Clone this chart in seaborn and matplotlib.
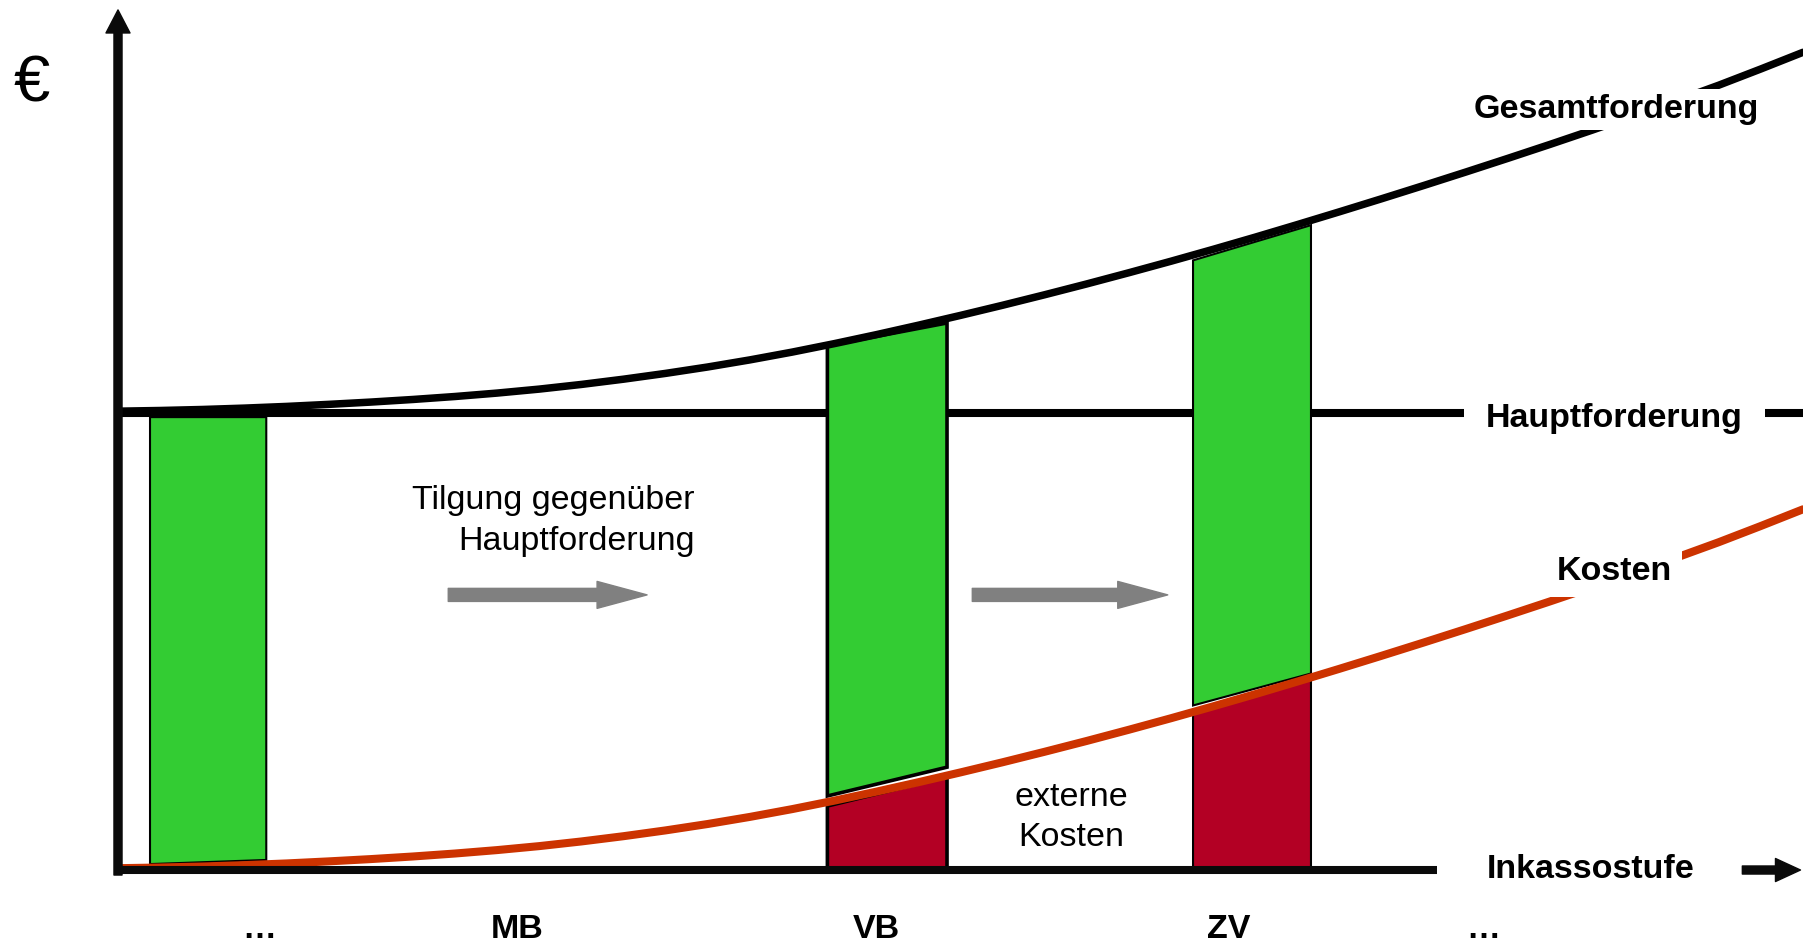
import matplotlib
matplotlib.use("Agg")
import matplotlib.pyplot as plt
import seaborn as sns

# Collection stages along the horizontal axis
stage_labels = ["…", "MB", "VB", "ZV", "…"]
stage_pos = [0.84, 2.37, 4.50, 6.59, 8.10]

# Principal claim (constant)
HAUPT = 100.0

# Accumulated external costs along the collection process
kosten_x = [0.0, 0.25, 0.5, 0.75, 1.0, 1.25, 1.5, 1.75, 2.0, 2.25,
            2.5, 2.75, 3.0, 3.25, 3.5, 3.75, 4.0, 4.25, 4.5, 4.75,
            5.0, 5.25, 5.5, 5.75, 6.0, 6.25, 6.5, 6.75, 7.0, 7.25,
            7.5, 7.75, 8.0, 8.25, 8.5, 8.75, 9.0, 9.25, 9.5, 9.75, 10.0]
kosten = [0.4, 0.55, 0.77, 1.07, 1.44, 1.89, 2.39, 2.96, 3.61, 4.36,
          5.23, 6.25, 7.40, 8.67, 10.07, 11.62, 13.32, 15.17, 17.14, 19.21,
          21.36, 23.58, 25.88, 28.25, 30.70, 33.22, 35.82, 38.49, 41.24, 44.04,
          46.89, 49.79, 52.74, 55.74, 58.79, 61.91, 65.11, 68.38, 71.73, 75.28, 78.93]
# Total claim = principal + costs
gesamt = [HAUPT + k for k in kosten]

# Stacked columns: green = repayment towards the claim, red = external costs
bar_left = [0.19, 4.21, 6.38]
bar_right = [0.88, 4.92, 7.08]
green_top_l = [99.1, 114.7, 133.4]
green_top_r = [99.1, 119.7, 141.1]
green_bot_l = [1.3, 16.2, 36.0]
green_bot_r = [2.2, 22.5, 43.0]
red_top_l = [0.0, 14.0, 34.4]
red_top_r = [0.0, 20.4, 41.8]
bar_edge = [1.5, 2.6, 1.5]

GREEN = "#33CC33"
RED = "#B30024"
ORANGE = "#CC3300"
GRAY = "#808080"
BLACK = "#000000"

sns.set_theme(style="white")
plt.rcParams["font.family"] = ["Liberation Sans", "DejaVu Sans"]

fig = plt.figure(figsize=(18.03, 9.43), dpi=100)
ax = fig.add_axes([0, 0, 1, 1])
ax.set_xlim(-0.7003, 10.0)
ax.set_ylim(-15.97, 190.37)
ax.axis("off")

LW = 5.8

# Principal claim line
sns.lineplot(x=[0.0, 10.0], y=[HAUPT, HAUPT], ax=ax, color=BLACK,
             linewidth=LW, legend=False, zorder=1)

# Columns
for i in range(len(bar_left)):
    l, r = bar_left[i], bar_right[i]
    if red_top_l[i] > 0:
        ax.fill([l, r, r, l], [0, 0, red_top_r[i], red_top_l[i]],
                facecolor=RED, edgecolor=BLACK, linewidth=bar_edge[i], zorder=2)
    ax.fill([l, r, r, l],
            [green_bot_l[i], green_bot_r[i], green_top_r[i], green_top_l[i]],
            facecolor=GREEN, edgecolor=BLACK, linewidth=bar_edge[i], zorder=2)

# Curves
sns.lineplot(x=kosten_x, y=gesamt, ax=ax, color=BLACK, linewidth=5.4,
             legend=False, zorder=3, solid_capstyle="round")
sns.lineplot(x=kosten_x, y=kosten, ax=ax, color=ORANGE, linewidth=LW,
             legend=False, zorder=3, solid_capstyle="round")

# Axes with arrow heads
ax.annotate("", xy=(0.0, 188.2), xytext=(0.0, -1.1),
            arrowprops=dict(arrowstyle="simple,head_length=16.6,head_width=17.3,tail_width=5.8",
                            mutation_scale=1, color="#0a0a0a", shrinkA=0, shrinkB=0),
            zorder=4)
ax.plot([-0.02, 7.83], [0, 0], color="#0a0a0a", linewidth=LW,
        solid_capstyle="butt", zorder=4)
ax.annotate("", xy=(9.985, 0), xytext=(9.64, 0),
            arrowprops=dict(arrowstyle="simple,head_length=18,head_width=16.6,tail_width=5.8",
                            mutation_scale=1, color="#0a0a0a", shrinkA=0, shrinkB=0),
            zorder=4)

# Grey progress arrows
for x0, x1 in [(1.96, 3.14), (5.07, 6.23)]:
    ax.annotate("", xy=(x1, 60.2), xytext=(x0, 60.2),
                arrowprops=dict(arrowstyle="simple,head_length=36,head_width=19.4,tail_width=9.4",
                                mutation_scale=1, color=GRAY, shrinkA=0, shrinkB=0),
                zorder=4)

FS = 24.5
bold = dict(fontsize=FS, fontweight="bold", color=BLACK, zorder=5)

ax.text(8.89, 164.6, "Gesamtforderung", ha="center", va="baseline",
        bbox=dict(boxstyle="square,pad=0.15", fc="white", ec="none"), **bold)
ax.text(8.88, 96.9, "Hauptforderung", ha="center", va="baseline",
        bbox=dict(boxstyle="square,pad=0.65", fc="white", ec="none"), **bold)
ax.text(8.88, 63.5, "Kosten", ha="center", va="baseline",
        bbox=dict(boxstyle="square,pad=0.3", fc="white", ec="none"), **bold)
ax.text(8.74, -1.75, "Inkassostufe", ha="center", va="baseline", **bold)

for x, lab in zip(stage_pos, stage_labels):
    ax.text(x, -14.9, lab, ha="center", va="baseline", **bold)

ax.text(-0.51, 168.1, "€", ha="center", va="baseline", fontsize=47, color=BLACK)

ax.text(3.42, 79.0, "Tilgung gegenüber", ha="right", va="baseline", fontsize=FS, color=BLACK)
ax.text(3.42, 70.0, "Hauptforderung", ha="right", va="baseline", fontsize=FS, color=BLACK)
ax.text(5.66, 14.0, "externe", ha="center", va="baseline", fontsize=FS, color=BLACK)
ax.text(5.66, 5.25, "Kosten", ha="center", va="baseline", fontsize=FS, color=BLACK)

fig.savefig("out.png", dpi=100, facecolor="white")
